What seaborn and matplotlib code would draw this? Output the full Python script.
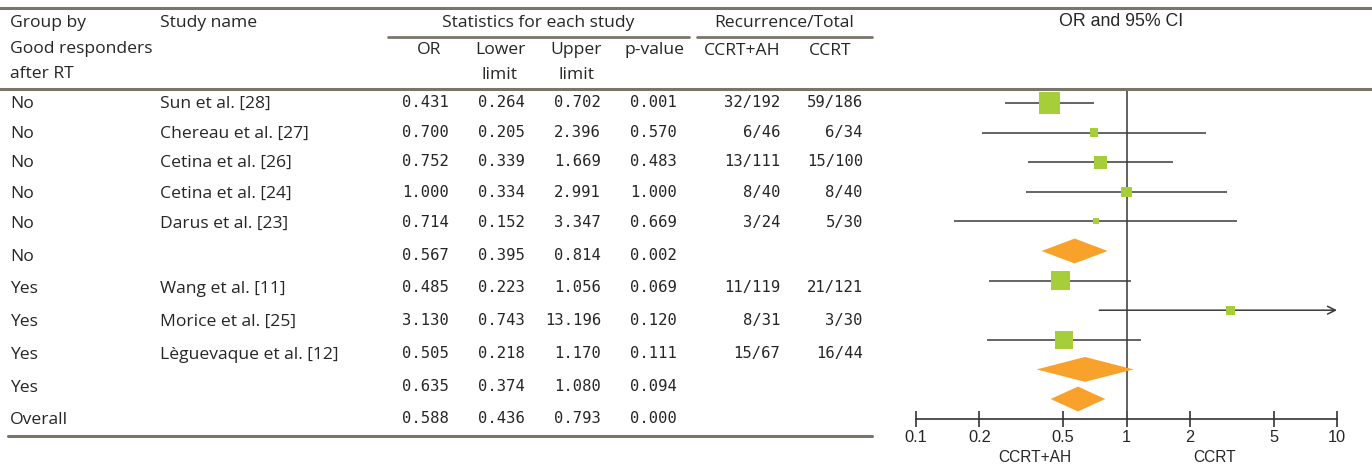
import numpy as np
import pandas as pd
import matplotlib
matplotlib.use("Agg")
import matplotlib.pyplot as plt
import seaborn as sns

# ---------------- data ----------------
groups = ["No", "No", "No", "No", "No", "No", "Yes", "Yes", "Yes", "Yes", "Overall"]
studies = ["Sun et al. [28]", "Chereau et al. [27]", "Cetina et al. [26]",
           "Cetina et al. [24]", "Darus et al. [23]", "",
           "Wang et al. [11]", "Morice et al. [25]", "Lèguevaque et al. [12]", "", ""]
row_kind = ["study", "study", "study", "study", "study", "subtotal",
            "study", "study", "study", "subtotal", "overall"]
odds_ratio = [0.431, 0.700, 0.752, 1.000, 0.714, 0.567, 0.485, 3.130, 0.505, 0.635, 0.588]
lower_limit = [0.264, 0.205, 0.339, 0.334, 0.152, 0.395, 0.223, 0.743, 0.218, 0.374, 0.436]
upper_limit = [0.702, 2.396, 1.669, 2.991, 3.347, 0.814, 1.056, 13.196, 1.170, 1.080, 0.793]
p_value = [0.001, 0.570, 0.483, 1.000, 0.669, 0.002, 0.069, 0.120, 0.111, 0.094, 0.000]
rec_ccrt_ah = ["32/192", "6/46", "13/111", "8/40", "3/24", "", "11/119", "8/31", "15/67", "", ""]
rec_ccrt = ["59/186", "6/34", "15/100", "8/40", "5/30", "", "21/121", "3/30", "16/44", "", ""]
# relative study weights (%), estimated from square areas
weights = [28.0, 4.1, 10.7, 6.3, 2.3, np.nan, 22.9, 5.1, 20.6, np.nan, np.nan]
tick_values = [0.1, 0.2, 0.5, 1, 2, 5, 10]
tick_labels = ["0.1", "0.2", "0.5", "1", "2", "5", "10"]

# ---------------- layout ----------------
W, H = 1372, 467
sns.set_theme(style="white")
LBLFONT = ["Open Sans", "DejaVu Sans"]
plt.rcParams["font.family"] = LBLFONT

fig = plt.figure(figsize=(W / 100, H / 100), dpi=100)
fig.patch.set_facecolor("white")

def fx(x):
    return x / W

def fy(y):
    return 1 - y / H

TXT = "#262626"
RULE = "#7a756b"
NUMFONT = ["DejaVu Sans Mono"]
LBL_SIZE = 12.6
NUM_SIZE = 11.2
LBL_DY = 2.0   # Open Sans renders slightly high with va=center

def hline_px(x0, x1, y, lw=2.0):
    fig.add_artist(plt.Line2D([fx(x0), fx(x1)], [fy(y), fy(y)], color=RULE, lw=lw,
                              transform=fig.transFigure))

# rules
hline_px(0, W, 8, 2.2)
hline_px(0, W, 89, 2.2)
hline_px(8, 872, 436, 2.2)
hline_px(388, 689, 37, 2.0)
hline_px(697, 872, 37, 2.0)

def t(x, y, s, ha="left", fam=None, size=LBL_SIZE, color=TXT):
    if fam is None:
        fam = LBLFONT
        y = y + LBL_DY
    fig.text(fx(x), fy(y), s, ha=ha, va="center", fontsize=size, color=color, family=fam)

# headers
t(10, 21, "Group by")
t(10, 47, "Good responders")
t(10, 72, "after RT")
t(160, 21, "Study name")
t(538, 21, "Statistics for each study", ha="center")
t(429, 48, "OR", ha="center")
t(500, 48, "Lower", ha="center")
t(500, 73, "limit", ha="center")
t(576, 48, "Upper", ha="center")
t(576, 73, "limit", ha="center")
t(655, 48, "p-value", ha="center")
t(784, 21, "Recurrence/Total", ha="center")
t(742, 49, "CCRT+AH", ha="center")
t(830, 49, "CCRT", ha="center")
t(1121, 21, "OR and 95% CI", ha="center", fam=["Liberation Sans"], size=12.8)

# table rows
row_px = [102, 132, 161, 192, 222, 255, 287, 320, 353, 386, 418]
for i in range(len(groups)):
    y = row_px[i]
    t(10, y, groups[i])
    if studies[i]:
        t(160, y, studies[i])
    t(449, y + 0.5, f"{odds_ratio[i]:.3f}", ha="right", fam=NUMFONT, size=NUM_SIZE)
    t(525, y + 0.5, f"{lower_limit[i]:.3f}", ha="right", fam=NUMFONT, size=NUM_SIZE)
    t(601, y + 0.5, f"{upper_limit[i]:.3f}", ha="right", fam=NUMFONT, size=NUM_SIZE)
    t(677, y + 0.5, f"{p_value[i]:.3f}", ha="right", fam=NUMFONT, size=NUM_SIZE)
    if rec_ccrt_ah[i]:
        t(780, y + 0.5, rec_ccrt_ah[i], ha="right", fam=NUMFONT, size=NUM_SIZE)
        t(863, y + 0.5, rec_ccrt[i], ha="right", fam=NUMFONT, size=NUM_SIZE)

# ---------------- forest plot ----------------
ax_left, ax_right = 916, 1337
ax_top, ax_bot = 91, 419
ax = fig.add_axes([fx(ax_left), fy(ax_bot), (ax_right - ax_left) / W, (ax_bot - ax_top) / H])
ax.set_facecolor("none")
ax.set_xscale("log")
ax.set_xlim(0.1, 10)
row_h = 29.6
ax.set_ylim(10 + (ax_bot - 399) / row_h, -(103 - ax_top) / row_h)

df = pd.DataFrame({"row": np.arange(len(groups)), "kind": row_kind, "OR": odds_ratio,
                   "lo": lower_limit, "hi": upper_limit, "w": weights})
studies_df = df[df["kind"] == "study"]

LINE = "#3a3a3a"
ax.axvline(1, color="#555555", lw=1.3, zorder=1)
for _, r in studies_df.iterrows():
    if r["hi"] > 10:
        ax.annotate("", xy=(10, r["row"]), xytext=(r["lo"], r["row"]),
                    arrowprops=dict(arrowstyle="->", lw=1.1, color=LINE,
                                    shrinkA=0, shrinkB=0, mutation_scale=14), zorder=2)
    else:
        ax.hlines(r["row"], r["lo"], r["hi"], color=LINE, lw=1.1, zorder=2)

sq_max = (21.5 * 0.72) ** 2
sns.scatterplot(data=studies_df, x="OR", y="row", size="w", sizes=(0, sq_max),
                size_norm=(0, max(w for w in weights if w == w)), marker="s",
                color="#a6ce39", linewidth=0, legend=False, ax=ax, zorder=3)

dh = 0.42
for _, r in df[df["kind"] != "study"].iterrows():
    ax.fill([r["lo"], r["OR"], r["hi"], r["OR"]],
            [r["row"], r["row"] - dh, r["row"], r["row"] + dh],
            color="#f8a22c", lw=0, zorder=3)

for s in ["left", "top", "right"]:
    ax.spines[s].set_visible(False)
ax.spines["bottom"].set_color("#333333")
ax.spines["bottom"].set_linewidth(1.2)
ax.set_xticks(tick_values)
ax.set_xticklabels(tick_labels, family=["Liberation Sans"], fontsize=11.8, color=TXT)
ax.xaxis.set_minor_locator(matplotlib.ticker.NullLocator())
ax.tick_params(axis="x", direction="inout", length=12, width=1.2, color="#333333", pad=2,
               bottom=True)
ax.set_yticks([])
ax.set_xlabel("")
ax.set_ylabel("")

fig.text(fx(1035), fy(458), "CCRT+AH", ha="center", va="center", fontsize=11.2,
         color=TXT, family=["Liberation Sans"])
fig.text(fx(1215), fy(458), "CCRT", ha="center", va="center", fontsize=11.2,
         color=TXT, family=["Liberation Sans"])

fig.savefig("out.png", dpi=100, facecolor="white")
